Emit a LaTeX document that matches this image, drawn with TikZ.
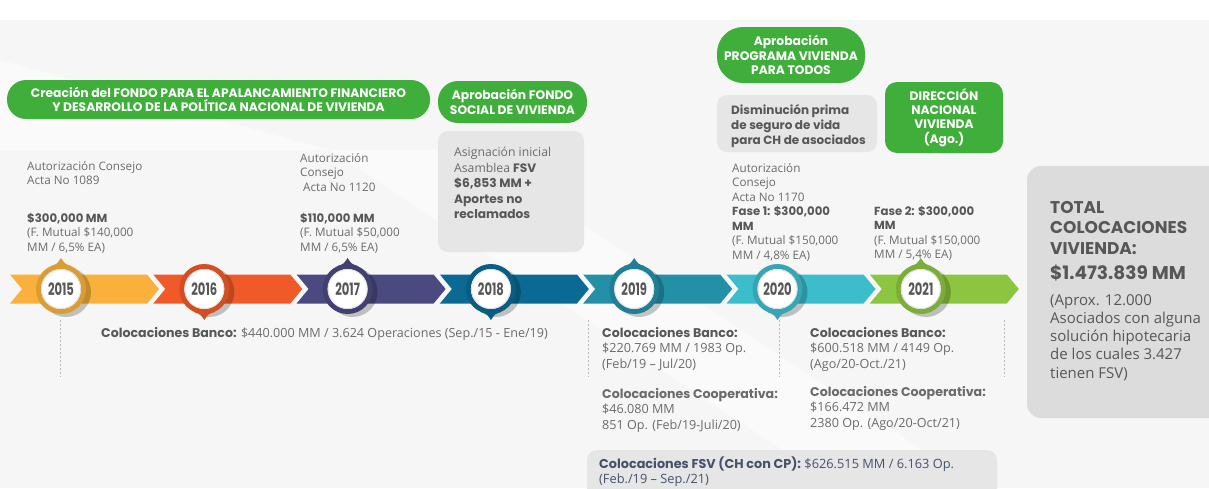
\documentclass[tikz,border=0pt]{standalone}
\usepackage{fontspec}
\setmainfont{Open Sans}
\newfontfamily\hdfont{Poppins}
\usepackage{graphicx}
\usetikzlibrary{calc}

% palette
\definecolor{pillgreen}{HTML}{3FAE3A}
\definecolor{boxgray}{HTML}{E6E6E6}
\definecolor{totalgray}{HTML}{DCDCDC}
\definecolor{bggray}{HTML}{F6F6F7}
\definecolor{txtgray}{HTML}{6B6B6B}
\definecolor{hdgray}{HTML}{575757}
\definecolor{slate}{HTML}{46526A}
\definecolor{yr15}{HTML}{F9B13B}
\definecolor{yr16}{HTML}{F05A28}
\definecolor{yr17}{HTML}{4A4980}
\definecolor{yr18}{HTML}{0B6A94}
\definecolor{yr19}{HTML}{2490A8}
\definecolor{yr20}{HTML}{3CBDCB}
\definecolor{yr21}{HTML}{8CC540}

\newcommand{\hdb}[1]{{\hdfont\bfseries #1}}

\tikzset{
  pill/.style={fill=pillgreen, text=white, inner sep=0pt, align=center,
    font=\hdfont\bfseries\fontsize{12.3}{14.3}\selectfont},
  graybox/.style={fill=boxgray, inner sep=0pt, rounded corners=10pt},
  note/.style={anchor=north west, inner sep=0pt, align=left, text=txtgray,
    font=\fontsize{11.7}{14.5}\selectfont},
  lownote/.style={note, font=\fontsize{12.6}{15.5}\selectfont},
  yearlabel/.style={text=hdgray, inner sep=0pt,
    font=\hdfont\bfseries\fontsize{17}{17}\selectfont},
  guide/.style={gray!55, line width=0.6pt, dash pattern=on 2pt off 2pt},
}

\begin{document}
\begin{tikzpicture}[x=1pt,y=-1pt]
  \useasboundingbox (0,0) rectangle (1209,488);

  % background
  \fill[bggray] (0,0) rectangle (1209,488);
  \fill[white] (0,0) -- (1209,0) -- (1209,20) -- (0,20) -- cycle;
  \fill[white, opacity=0.5] (330,150) -- (470,150) -- (980,488) -- (840,488) -- cycle;
  \fill[white, opacity=0.5] (0,60) -- (330,150) -- (0,150) -- cycle;

  % green headers
  \node[pill, rounded corners=19pt, minimum width=423pt, minimum height=39pt]
    (fondo) at (218.5,99.5)
    {Creación del FONDO PARA EL APALANCAMIENTO FINANCIERO\\
     Y DESARROLLO DE LA POLÍTICA NACIONAL DE VIVIENDA};
  \node[pill, rounded corners=20pt, minimum width=149pt, minimum height=42pt]
    (fsvap) at (512.5,102) {Aprobación FONDO\\SOCIAL DE VIVIENDA};
  \node[pill, rounded corners=26pt, minimum width=148pt, minimum height=56pt]
    (programa) at (791,55) {Aprobación\\PROGRAMA VIVIENDA\\PARA TODOS};
  \node[pill, rounded corners=12pt, minimum width=118pt, minimum height=71pt]
    (direccion) at (944,117.5) {DIRECCIÓN\\NACIONAL\\VIVIENDA\\(Ago.)};

  % gray boxes
  \node[graybox, minimum width=146pt, minimum height=121pt] (asigbox) at (511,191.5) {};
  \node[graybox, minimum width=160pt, minimum height=57pt] (primabox) at (797,123.5) {};
  \node[graybox, fill=totalgray, rounded corners=14pt, minimum width=200pt,
    minimum height=252pt] (totalbox) at (1127,292) {};
  \node[graybox, minimum width=410pt, minimum height=60pt] (fsvbox) at (792,480) {};

  % timeline band
  \foreach \i/\col in {0/yr15,1/yr16,2/yr17,3/yr18,4/yr19,5/yr20,6/yr21}{
    \pgfmathsetmacro\sx{10+143.3*\i}
    \pgfmathsetmacro\tx{\sx+149}
    \fill[\col] (\sx,274.5) -- (\tx-12,274.5) -- (\tx,289) -- (\tx-12,303.5)
      -- (\sx,303.5) -- (\sx+12,289) -- cycle;
  }

  % year badges
  \foreach \i/\yr/\col/\dir in {0/2015/yr15/-1,1/2016/yr16/1,2/2017/yr17/-1,
      3/2018/yr18/1,4/2019/yr19/-1,5/2020/yr20/1,6/2021/yr21/-1}{
    \pgfmathsetmacro\cx{61+143.3*\i}
    \fill[black, opacity=0.22] (\cx+5,292) circle (25);
    \fill[\col!88!black] (\cx-10,289+23*\dir) .. controls (\cx-4,289+25*\dir)
      .. (\cx,289+31*\dir) .. controls (\cx+4,289+25*\dir) .. (\cx+10,289+23*\dir) -- cycle;
    \fill[\col!88!black] (\cx,289) circle (25);
    \fill[white] (\cx,289) circle (20);
    \draw[gray!25, line width=0.8pt] (\cx,289) circle (19.5);
    \node[yearlabel] (y\yr) at (\cx,289.5) {\scalebox{0.68}[1]{\yr}};
  }

  % dotted guides
  \coordinate (g1) at (60,320);
  \coordinate (g2) at (588,320);
  \coordinate (g3) at (779,320);
  \coordinate (g4) at (1004,320);
  \foreach \g in {g1,g2,g3,g4}
    \draw[guide] (\g) -- ++(0,57);

  % texts above the band
  \node[note] (auth15) at (27,161) {Autorización Consejo\\Acta No 1089};
  \node[note] (amt15) at (27,213)
    {\hdb{\color{hdgray}\$300,000 MM}\\(F. Mutual \$140,000\\MM / 6,5\% EA)};
  \node[note] (auth17) at (300,153) {Autorización\\Consejo\\\hspace{3pt}Acta No 1120};
  \node[note] (amt17) at (300,213)
    {\hdb{\color{hdgray}\$110,000 MM}\\(F. Mutual \$50,000\\MM / 6,5\% EA)};
  \node[note, font=\fontsize{12.2}{15.5}\selectfont] (asig) at (454,147)
    {Asignación inicial\\Asamblea \hdb{\color{hdgray}FSV}\\
     \hdb{\color{hdgray}\$6,853 MM +}\\\hdb{\color{hdgray}Aportes no}\\
     \hdb{\color{hdgray}reclamados}};
  \node[note, font=\hdfont\bfseries\fontsize{12}{15}\selectfont, text=hdgray]
    (prima) at (731,104) {Disminución prima\\de seguro de vida\\para CH de asociados};
  \node[note] (auth20) at (732,163)
    {Autorización\\Consejo\\Acta No 1170\\\hdb{\color{hdgray}Fase 1: \$300,000}\\
     \hdb{\color{hdgray}MM}\\(F. Mutual \$150,000\\MM / 4,8\% EA)};
  \node[note] (amt21) at (874,206)
    {\hdb{\color{hdgray}Fase 2: \$300,000}\\\hdb{\color{hdgray}MM}\\
     (F. Mutual \$150,000\\MM / 5,4\% EA)};

  % texts below the band
  \node[lownote] (banco15) at (101,327)
    {\hdb{\color{hdgray}Colocaciones Banco:} \$440.000 MM / 3.624 Operaciones (Sep./15 - Ene/19)};
  \node[lownote] (banco19) at (602,327)
    {\hdb{\color{hdgray}Colocaciones Banco:}\\\$220.769 MM / 1983 Op.\\(Feb/19 -- Jul/20)};
  \node[lownote] (coop19) at (602,388)
    {\hdb{Colocaciones Cooperativa:}\\\$46.080 MM\\851 Op. (Feb/19-Juli/20)};
  \node[lownote] (banco20) at (810,327)
    {\hdb{\color{hdgray}Colocaciones Banco:}\\\$600.518 MM / 4149 Op.\\(Ago/20-Oct./21)};
  \node[lownote] (coop20) at (810,386)
    {\hdb{Colocaciones Cooperativa:}\\\$166.472 MM\\2380 Op. (Ago/20-Oct/21)};
  \node[lownote, text=slate, font=\fontsize{12.8}{14.5}\selectfont] (fsv) at (599,457)
    {\hdb{Colocaciones FSV (CH con CP):} \$626.515 MM / 6.163 Op.\\(Feb./19 -- Sep./21)};

  % total
  \node[note, text=hdgray, font=\hdfont\bfseries\fontsize{17}{20.5}\selectfont]
    (totaltit) at (1050,201) {TOTAL\\COLOCACIONES\\VIVIENDA:};
  \node[note, text=hdgray, font=\hdfont\bfseries\fontsize{18.5}{20}\selectfont]
    (totalval) at (1050,265) {\$1.473.839 MM};
  \node[note, text=hdgray, font=\fontsize{15}{18.3}\selectfont]
    (totalnote) at (1050,294)
    {(Aprox. 12.000\\Asociados con alguna\\solución hipotecaria\\de los cuales 3.427\\tienen FSV)};
\end{tikzpicture}
\end{document}
